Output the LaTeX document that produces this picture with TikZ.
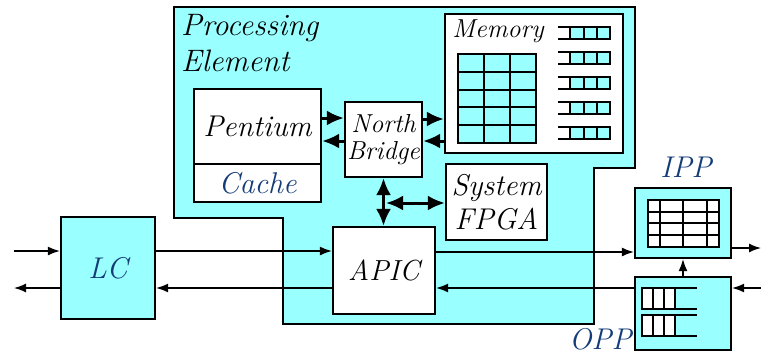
\documentclass[tikz,border=0pt]{standalone}
\usepackage{fontspec}
\usetikzlibrary{arrows.meta}
\definecolor{pecyan}{HTML}{99FFFF}
\definecolor{peblue}{HTML}{143C78}
\tikzset{
  blk/.style={draw, line width=2.2pt, fill=white, inner sep=0pt, align=center, font=\fontsize{30}{34}\selectfont\itshape},
  lbl/.style={inner sep=0pt, font=\fontsize{30}{36}\selectfont\itshape},
  grid/.style={line width=1.8pt},
  sigline/.style={line width=1.4pt, -{Latex[length=12pt,width=9pt]}},
  busline/.style={line width=3pt, -{Latex[length=17pt,width=15pt]}},
  busboth/.style={line width=3pt, {Latex[length=17pt,width=15pt]}-{Latex[length=17pt,width=15pt]}}
}
\begin{document}
\begin{tikzpicture}[x=1pt,y=-1pt]
\useasboundingbox (0,0) rectangle (761,354);
% processing element outline
\draw[line width=2pt, fill=pecyan] (174,7) -- (635,7) -- (635,168) -- (594,168) -- (594,324) -- (283,324) -- (283,218) -- (174,218) -- cycle;
\node[lbl, anchor=north west, align=left, font=\fontsize{31}{36}\selectfont\itshape] (pelbl) at (181,14) {Processing\\Element};
% boxes
\node[blk, minimum width=127pt, minimum height=75pt] (pentium) at (257.5,126.5) {Pentium};
\node[blk, minimum width=127pt, minimum height=38pt, text=peblue] (cache) at (257.5,183) {Cache};
\node[blk, minimum width=77pt, minimum height=75pt, font=\fontsize{26}{27}\selectfont\itshape] (nb) at (383.5,139.5) {North\\Bridge};
\node[blk, minimum width=178pt, minimum height=139pt] (mem) at (534,83.5) {};
\node[lbl, font=\fontsize{26}{28}\selectfont\itshape] (memlbl) at (498,31) {Memory};
\node[blk, minimum width=101pt, minimum height=76pt] (fpga) at (496.5,202) {System\\FPGA};
\node[blk, minimum width=102pt, minimum height=87pt, font=\fontsize{29}{34}\selectfont\itshape] (apic) at (384,270.5) {APIC};
\node[blk, minimum width=94pt, minimum height=102pt, fill=pecyan, text=peblue] (lc) at (108,268) {LC};
\node[blk, minimum width=96pt, minimum height=70pt, fill=pecyan] (ipp) at (683,223) {};
\node[blk, minimum width=96pt, minimum height=73pt, fill=pecyan] (opp) at (683,313.5) {};
\node[lbl, text=peblue] (ipplbl) at (686,167) {IPP};
\node[lbl, text=peblue, anchor=west] (opplbl) at (569,339) {OPP};
% memory array
\draw[grid, fill=pecyan] (458,54) rectangle (536,143);
\foreach \x in {484,510} \draw[grid] (\x,54) -- (\x,143);
\foreach \y in {72,90,107,125} \draw[grid] (458,\y) -- (536,\y);
% memory queues
\foreach \y in {27,52,77,102,127} {
  \draw[grid, fill=pecyan] (570,\y) rectangle (610,\y+12);
  \draw[grid] (558,\y) -- (570,\y) (558,\y+12) -- (570,\y+12);
  \foreach \x in {584,597} \draw[grid] (\x,\y) -- (\x,\y+12);
}
% IPP table
\draw[grid, fill=white] (648,200) rectangle (719,247);
\foreach \x in {660,683,707} \draw[grid] (\x,200) -- (\x,247);
\foreach \y in {212,223,235} \draw[grid] (648,\y) -- (719,\y);
% OPP queues
\foreach \y in {288,315} {
  \draw[grid, fill=white] (642,\y) rectangle (675,\y+21);
  \draw[grid] (675,\y) -- (697,\y) (675,\y+21) -- (697,\y+21);
  \foreach \x in {653,664} \draw[grid] (\x,\y) -- (\x,\y+21);
}
% buses
\draw[busline] (pentium.east |- 0,118) -- (nb.west |- 0,118);
\draw[busline] (nb.west |- 0,141) -- (pentium.east |- 0,141);
\draw[busline] (nb.east |- 0,119) -- (mem.west |- 0,119);
\draw[busline] (mem.west |- 0,141) -- (nb.east |- 0,141);
\draw[busboth] (nb.south) -- (nb.south |- apic.north);
\coordinate (junc) at (386,203);
\draw[busboth] (junc) -- (fpga.west |- junc);
% signals
\coordinate (lcin) at (14,251);
\coordinate (lcout) at (14,288);
\coordinate (ippout) at (761,248);
\coordinate (oppin) at (761,288);
\draw[sigline] (lcin) -- (lc.west |- lcin);
\draw[sigline] (lc.west |- lcout) -- (lcout);
\draw[sigline] (lc.east |- lcin) -- (apic.west |- lcin);
\draw[sigline] (apic.west |- lcout) -- (lc.east |- lcout);
\draw[sigline] (apic.east |- 0,252) -- (ipp.west |- 0,252);
\draw[sigline] (opp.west |- oppin) -- (apic.east |- oppin);
\draw[sigline] (ipp.east |- ippout) -- (ippout);
\draw[sigline] (oppin) -- (opp.east |- oppin);
\draw[sigline] (opp.north) -- (ipp.south);
\end{tikzpicture}
\end{document}
